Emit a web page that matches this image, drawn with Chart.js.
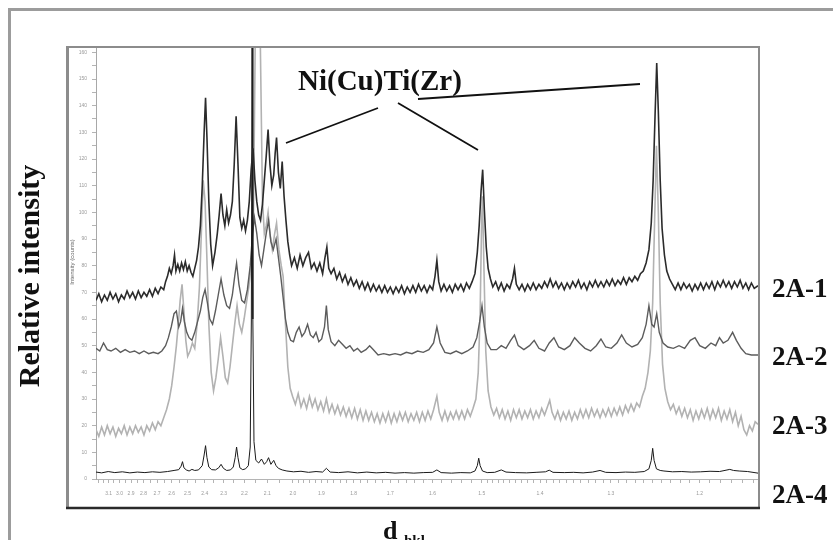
<!DOCTYPE html>
<html>
<head>
<meta charset="utf-8">
<script src="https://cdn.jsdelivr.net/npm/chart.js@4.4.1/dist/chart.umd.min.js"></script>
<style>
  html, body { margin: 0; padding: 0; background: #fff; }
  canvas { display: block; }
</style>
</head>
<body>
<canvas id="xrdChart" width="833" height="540"></canvas>
<script>
// Co K-alpha wavelength (Angstrom): the pattern is recorded in 2-theta, axis is labelled in d
const WAVELENGTH = 1.789;

const seriesNames = ['2A-1', '2A-2', '2A-3', '2A-4'];

// d-spacing labels shown under the axis
const dTickLabels = [3.1, 3.0, 2.9, 2.8, 2.7, 2.6, 2.5, 2.4, 2.3, 2.2, 2.1, 2.0, 1.9, 1.8, 1.7, 1.6, 1.5, 1.4, 1.3, 1.2];
const intensityTicks = [0, 10, 20, 30, 40, 50, 60, 70, 80, 90, 100, 110, 120, 130, 140, 150, 160];

// [2-theta (deg), intensity]
const trace2A1 = [
  [32.2,67],[32.5,69.5],[32.8,66.5],[33.1,69],[33.4,67],[33.7,70],[34.0,67.5],[34.3,69.5],[34.6,66.5],[34.9,69],
  [35.2,67.5],[35.5,70.5],[35.8,68],[36.1,70],[36.4,67.5],[36.7,70.5],[37.0,68],[37.3,70],[37.6,68.5],[37.9,71],
  [38.2,68.5],[38.5,71.5],[38.8,69.5],[39.1,72],[39.4,71],[39.6,74],[39.8,76],[40.0,79],[40.2,77],[40.4,80],
  [40.55,84],[40.7,78],[40.9,80.5],[41.1,78],[41.3,81],[41.5,78.5],[41.7,81.5],[41.9,78],[42.1,80],[42.3,77.5],
  [42.5,76],[42.7,79],[42.9,82],[43.1,87],[43.3,95],[43.5,110],[43.7,130],[43.85,143],[44.0,128],[44.2,104],
  [44.4,88],[44.6,80],[44.85,85],[45.1,92],[45.3,99],[45.5,107],[45.7,99],[45.9,95],[46.1,101],[46.3,96],
  [46.5,99],[46.7,104],[46.9,118],[47.1,136],[47.3,118],[47.5,98],[47.7,94],[47.9,97],[48.1,93],[48.3,97],
  [48.5,104],[48.7,116],[48.9,124],[49.1,112],[49.3,104],[49.5,99],[49.7,97],[49.9,103],[50.1,112],[50.3,121],
  [50.5,131],[50.7,118],[50.9,110],[51.1,114],[51.25,122],[51.4,128],[51.6,115],[51.8,109],[52.0,119],[52.2,106],
  [52.4,97],[52.6,89],[52.8,84],[53.0,80],[53.3,83],[53.6,79],[53.9,84],[54.2,80],[54.5,83],[54.8,85],
  [55.1,79],[55.4,81],[55.7,78],[56.0,81],[56.3,77],[56.55,83],[56.75,87],[56.95,79],[57.2,77],[57.5,79],
  [57.8,75],[58.1,77.5],[58.4,74],[58.7,76.5],[59.0,73],[59.3,75.5],[59.6,72.5],[59.9,74.5],[60.2,71.5],[60.5,74],
  [60.8,71],[61.1,73.5],[61.4,70.5],[61.7,73],[62.0,70.5],[62.3,72.5],[62.6,70],[62.9,72.5],[63.2,70],[63.5,72],
  [63.8,69.5],[64.1,72],[64.4,70],[64.7,72.5],[65.0,69.5],[65.3,72],[65.6,70],[65.9,72.5],[66.2,70],[66.5,73],
  [66.8,70.5],[67.1,72.5],[67.4,70],[67.7,72.5],[68.0,71],[68.25,76],[68.45,82],[68.65,74],[68.9,70.5],[69.2,73],
  [69.5,70.5],[69.8,72.5],[70.1,70],[70.4,73],[70.7,71],[71.0,73],[71.3,70.5],[71.6,73.5],[71.9,71.5],[72.2,74],
  [72.5,77],[72.75,85],[72.95,95],[73.15,108],[73.32,116],[73.5,101],[73.7,87],[73.9,79],[74.15,75],[74.4,72],
  [74.7,74],[75.0,71],[75.3,73.5],[75.6,70.5],[75.9,73],[76.2,71.5],[76.5,75],[76.7,79],[76.9,73],[77.2,71],
  [77.5,73],[77.8,70.5],[78.1,73],[78.4,71],[78.7,73.5],[79.0,71],[79.3,73],[79.6,71.5],[79.9,74],[80.2,72],
  [80.5,75],[80.8,72],[81.1,74],[81.4,71.5],[81.7,73.5],[82.0,71],[82.3,73.5],[82.6,71.5],[82.9,74],[83.2,72],
  [83.5,74.5],[83.8,71.5],[84.1,73.5],[84.4,71],[84.7,74],[85.0,72],[85.3,74.5],[85.6,72],[85.9,74],[86.2,72],
  [86.5,74.5],[86.8,72.5],[87.1,75],[87.4,72.5],[87.7,74.5],[88.0,73],[88.3,75.5],[88.6,73],[88.9,75.5],[89.2,74],
  [89.5,76],[89.8,74.5],[90.1,77],[90.4,78],[90.7,81],[91.0,86],[91.25,96],[91.45,112],[91.65,136],[91.83,156],
  [92.0,138],[92.2,112],[92.4,94],[92.65,84],[92.9,78],[93.2,75],[93.5,73],[93.8,71],[94.1,73.5],[94.4,71],
  [94.7,73.5],[95.0,71.5],[95.3,73],[95.6,70.5],[95.9,73],[96.2,71],[96.5,73.5],[96.8,71],[97.1,73.5],[97.4,71.5],
  [97.7,74],[98.0,71],[98.3,74],[98.6,72],[98.9,74.5],[99.2,72],[99.5,74],[99.8,71.5],[100.1,74],[100.4,72],
  [100.7,74.5],[101.0,71.5],[101.3,73.5],[101.6,71],[101.9,73.5],[102.2,71.5],[102.6,72.5]
];

const trace2A2 = [
  [32.2,49],[32.6,48],[33.0,51],[33.4,48.5],[33.8,48],[34.3,49],[34.8,47.5],[35.3,48.5],[35.8,47.5],[36.3,48],
  [36.8,47],[37.3,48],[37.8,47],[38.3,47.5],[38.8,47],[39.2,48],[39.6,50],[39.9,53],[40.2,57],[40.5,62],
  [40.75,63],[41.0,57],[41.2,59],[41.4,64],[41.6,59],[41.85,55],[42.1,53],[42.4,52],[42.7,55],[43.0,59],
  [43.3,63],[43.55,68],[43.8,71],[44.05,66],[44.3,60],[44.6,58],[44.9,63],[45.2,69],[45.5,75],[45.8,69],
  [46.1,65],[46.4,64],[46.7,69],[46.95,76],[47.15,81],[47.4,73],[47.7,67],[48.0,66],[48.3,71],[48.6,80],
  [48.85,92],[49.05,98],[49.3,92],[49.55,84],[49.8,80],[50.05,86],[50.3,92],[50.55,97],[50.8,89],[51.05,86],
  [51.35,90],[51.6,83],[51.85,76],[52.1,68],[52.35,60],[52.6,55],[52.9,52],[53.2,51.5],[53.5,55],[53.8,57],
  [54.1,53.5],[54.4,55],[54.7,58],[55.0,54],[55.3,53],[55.6,55],[55.9,51.5],[56.2,52.5],[56.5,57],[56.7,65],
  [56.9,56],[57.2,51.5],[57.6,50],[58.0,52],[58.4,50.5],[58.8,49],[59.2,50],[59.6,48],[60.0,49],[60.4,47.5],
  [60.9,48.5],[61.3,50],[61.7,48.5],[62.2,46.5],[62.8,47],[63.4,46.5],[64.0,47],[64.6,46.5],[65.2,47.5],[65.8,47],
  [66.4,48],[67.0,47.5],[67.6,48.5],[68.1,51],[68.45,57],[68.8,51],[69.3,47.5],[69.9,47],[70.5,48],[71.1,47],
  [71.7,48],[72.3,49.5],[72.7,53],[73.0,59],[73.25,65],[73.5,57],[73.8,51],[74.2,48.5],[74.8,48.5],[75.3,50],
  [75.8,49],[76.3,52],[76.7,54],[77.1,50],[77.7,48.5],[78.3,50],[78.8,52],[79.3,49],[79.9,48],[80.4,51],
  [80.9,53],[81.4,49.5],[82.0,48.5],[82.6,50],[83.1,53],[83.6,51],[84.2,49],[84.8,48],[85.4,50],[85.9,52.5],
  [86.4,49.5],[87.0,49],[87.6,51],[88.1,54],[88.6,51],[89.2,49.5],[89.8,50.5],[90.3,53],[90.7,58],[91.0,65],
  [91.3,58],[91.55,57],[91.83,62],[92.1,55],[92.5,51],[93.0,49.5],[93.6,49],[94.2,50],[94.8,49],[95.4,52],
  [95.9,53],[96.4,50],[97.0,49],[97.6,51],[98.1,50],[98.5,53],[98.9,51],[99.4,52],[99.9,55],[100.3,52],
  [100.8,49],[101.3,47],[101.9,46.5],[102.6,46.5]
];

const trace2A3 = [
  [32.2,18.5],[32.5,16],[32.8,19.5],[33.1,16.5],[33.4,20],[33.7,17],[34.0,19.5],[34.3,16],[34.6,19],[34.9,17],
  [35.2,20],[35.5,16.5],[35.8,19.5],[36.1,17],[36.4,20],[36.7,17.5],[37.0,19.5],[37.3,16.5],[37.6,20],[37.9,18],
  [38.2,21],[38.5,18.5],[38.8,21.5],[39.1,20],[39.4,23],[39.7,26],[40.0,30],[40.25,35],[40.5,42],[40.75,50],
  [40.95,58],[41.15,67],[41.35,73],[41.55,63],[41.75,52],[41.95,46],[42.2,48],[42.45,51],[42.7,49],[42.95,58],
  [43.2,72],[43.4,92],[43.6,112],[43.8,104],[44.0,82],[44.2,58],[44.45,40],[44.7,33],[44.95,38],[45.2,45],
  [45.45,53],[45.7,46],[45.95,38],[46.2,36],[46.45,42],[46.7,50],[46.95,58],[47.2,65],[47.45,58],[47.7,55],
  [47.95,60],[48.2,66],[48.45,72],[48.7,80],[48.95,100],[49.15,170],[49.4,260],[49.65,170],[49.9,105],[50.1,92],
  [50.3,95],[50.5,100],[50.7,92],[50.95,86],[51.2,92],[51.4,96],[51.65,86],[51.9,80],[52.1,76],[52.35,58],
  [52.6,42],[52.85,34],[53.1,31],[53.4,28],[53.7,32],[54.0,27],[54.3,30],[54.6,26.5],[54.9,31],[55.2,27],
  [55.5,30],[55.8,26],[56.1,29],[56.4,25.5],[56.7,30],[57.0,25],[57.3,28],[57.6,24.5],[57.9,27.5],[58.2,24],
  [58.5,27],[58.8,23.5],[59.1,26.5],[59.4,23],[59.7,26.5],[60.0,22.5],[60.3,26],[60.6,22],[60.9,25.5],[61.2,22],
  [61.5,25],[61.8,21.5],[62.1,24.5],[62.4,21],[62.7,24.5],[63.0,21.5],[63.3,25],[63.6,21],[63.9,24.5],[64.2,21.5],
  [64.5,25],[64.8,22],[65.1,25],[65.4,21.5],[65.7,24.5],[66.0,22],[66.3,25],[66.6,21.5],[66.9,25],[67.2,22],
  [67.5,25.5],[67.8,22.5],[68.1,26],[68.45,31],[68.7,25],[69.0,22],[69.3,25.5],[69.6,22],[69.9,25],[70.2,22.5],
  [70.5,25.5],[70.8,22.5],[71.1,25.5],[71.4,22.5],[71.7,26],[72.0,23.5],[72.3,26.5],[72.6,30],[72.85,40],[73.05,62],
  [73.2,95],[73.3,106],[73.45,80],[73.65,48],[73.9,33],[74.2,27],[74.5,24],[74.8,26.5],[75.1,23],[75.4,26],
  [75.7,22.5],[76.0,25.5],[76.3,22],[76.6,26],[76.9,23],[77.2,26],[77.5,22.5],[77.8,25.5],[78.1,23],[78.4,26],
  [78.7,22.5],[79.0,25.5],[79.3,23],[79.6,26.5],[79.9,24],[80.2,27],[80.45,29.5],[80.7,25],[81.0,22.5],[81.3,25.5],
  [81.6,22],[81.9,25],[82.2,22.5],[82.5,25.5],[82.8,22],[83.1,25],[83.4,22.5],[83.7,26],[84.0,23],[84.3,26],
  [84.6,23],[84.9,26.5],[85.2,23.5],[85.5,26],[85.8,23],[86.1,26],[86.4,23.5],[86.7,26.5],[87.0,23.5],[87.3,26.5],
  [87.6,24],[87.9,27],[88.2,24],[88.5,27.5],[88.8,25],[89.1,28],[89.4,25.5],[89.7,28.5],[90.0,27],[90.3,31],
  [90.6,34],[90.9,40],[91.15,48],[91.4,66],[91.6,96],[91.8,125],[92.0,100],[92.2,66],[92.45,43],[92.7,34],
  [93.0,29],[93.3,26],[93.6,28],[93.9,24.5],[94.2,27],[94.5,23.5],[94.8,26.5],[95.1,23],[95.4,26],[95.7,22],
  [96.0,25.5],[96.3,22.5],[96.6,26],[96.9,23],[97.2,26.5],[97.5,22.5],[97.8,26],[98.1,23],[98.4,26.5],[98.7,22],
  [99.0,25.5],[99.3,22.5],[99.6,26],[99.9,21.5],[100.2,25],[100.5,20],[100.8,23.5],[101.1,18.5],[101.4,16.5],[101.7,20],
  [102.0,18],[102.3,21.5],[102.6,20.5]
];

const trace2A4 = [
  [32.2,2.6],[32.8,2.3],[33.5,2.8],[34.2,2.4],[35.0,2.7],[35.8,2.3],[36.6,2.6],[37.4,2.4],[38.2,2.7],[39.0,2.5],
  [39.8,2.8],[40.5,3.2],[41.0,3.5],[41.25,4.8],[41.4,6.5],[41.55,4.2],[41.8,3.4],[42.1,3],[42.4,3.6],[42.7,3.2],
  [43.1,3.4],[43.5,5],[43.7,9],[43.85,12.5],[44.0,8],[44.2,4.5],[44.5,3.5],[44.9,3.4],[45.25,4.2],[45.5,5.5],
  [45.75,4],[46.1,3.2],[46.5,3.4],[46.8,4.5],[47.0,8],[47.15,12],[47.3,8],[47.5,4.2],[47.8,3.5],[48.1,3.8],
  [48.4,5],[48.6,12],[48.72,60],[48.8,175],[48.88,60],[49.0,14],[49.2,7],[49.5,6],[49.8,7.5],[50.1,5.5],
  [50.35,6.5],[50.55,8],[50.8,5.5],[51.1,7],[51.35,5],[51.6,4],[52.0,3.4],[52.5,3],[53.2,2.7],[54.0,2.9],
  [54.8,2.5],[55.6,2.8],[56.3,2.6],[56.7,4],[57.1,2.6],[58.0,2.4],[59.0,2.7],[60.0,2.3],[61.0,2.6],[62.0,2.3],
  [63.0,2.5],[64.0,2.2],[65.0,2.4],[66.0,2.2],[67.0,2.4],[68.0,2.5],[68.45,3.4],[68.9,2.4],[70.0,2.2],[71.0,2.4],
  [72.0,2.3],[72.5,3],[72.75,5],[72.9,7.8],[73.05,5],[73.3,3],[73.8,2.4],[74.6,2.5],[75.3,3.4],[75.8,2.6],
  [76.8,2.4],[78.0,2.3],[79.0,2.5],[80.0,2.7],[80.4,3.3],[80.8,2.5],[82.0,2.4],[83.0,2.5],[84.0,2.3],[85.0,2.6],
  [85.8,3.2],[86.4,2.5],[87.5,2.4],[88.5,2.6],[89.5,2.5],[90.5,2.8],[91.0,3.8],[91.25,7],[91.4,11.5],[91.55,7],
  [91.8,3.8],[92.2,3.2],[92.6,3],[93.5,2.7],[94.5,2.8],[95.5,2.6],[96.5,2.7],[97.5,2.9],[98.5,2.8],[99.2,3.3],
  [99.6,3.6],[100.0,3.2],[100.6,3.0],[101.5,2.8],[102.6,2.2]
];

function dToTwoTheta(d) {
    return 2 * Math.asin(WAVELENGTH / (2 * d)) * 180 / Math.PI;
}

// tick marks every 0.05 / 0.02 / 0.01 in d, labels only on the listed values
function buatTickD() {
    const ticks = [];
    const tambah = (k) => {
        const d = k / 100;
        const lbl = dTickLabels.find(v => Math.abs(v - d) < 1e-6);
        ticks.push({ value: dToTwoTheta(d), txt: lbl !== undefined ? lbl.toFixed(1) : '' });
    };
    for (let k = 320; k > 200; k -= 5) tambah(k);
    for (let k = 200; k > 150; k -= 2) tambah(k);
    for (let k = 150; k >= 115; k -= 1) tambah(k);
    return ticks;
}

const frameAndText = {
    id: 'frameAndText',
    beforeDraw(chart) {
        const ctx = chart.ctx;
        ctx.save();
        ctx.fillStyle = '#fff';
        ctx.fillRect(0, 0, chart.width, chart.height);
        ctx.restore();
    },
    afterDraw(chart) {
        const ctx = chart.ctx;
        ctx.save();

        // outer frame
        ctx.strokeStyle = '#9c9c9c';
        ctx.lineWidth = 3;
        ctx.beginPath();
        ctx.moveTo(9.5, 540);
        ctx.lineTo(9.5, 9.5);
        ctx.lineTo(833, 9.5);
        ctx.stroke();

        // box round the plot
        ctx.strokeStyle = '#8c8c8c';
        ctx.lineWidth = 3;
        ctx.beginPath();
        ctx.moveTo(67.5, 509);
        ctx.lineTo(67.5, 46);
        ctx.stroke();
        ctx.lineWidth = 2;
        ctx.beginPath();
        ctx.moveTo(66, 47);
        ctx.lineTo(759, 47);
        ctx.lineTo(759, 509);
        ctx.stroke();
        ctx.strokeStyle = '#2a2a2a';
        ctx.lineWidth = 2.5;
        ctx.beginPath();
        ctx.moveTo(66, 508);
        ctx.lineTo(760, 508);
        ctx.stroke();

        // small inner axis title
        ctx.fillStyle = '#666';
        ctx.font = '6px "Liberation Sans"';
        ctx.save();
        ctx.translate(72, 262);
        ctx.rotate(-Math.PI / 2);
        ctx.textAlign = 'center';
        ctx.textBaseline = 'middle';
        ctx.fillText('Intensity (counts)', 0, 0);
        ctx.restore();

        ctx.fillStyle = '#111';
        ctx.strokeStyle = '#111';

        // y title
        ctx.save();
        ctx.font = 'bold 30px "Liberation Serif"';
        ctx.translate(31, 276);
        ctx.rotate(-Math.PI / 2);
        ctx.textAlign = 'center';
        ctx.textBaseline = 'middle';
        ctx.fillText('Relative intensity', 0, 0);
        ctx.restore();

        // x title: d with subscript hkl
        ctx.textAlign = 'left';
        ctx.textBaseline = 'alphabetic';
        ctx.font = 'bold 26px "Liberation Serif"';
        ctx.fillText('d', 383, 539);
        ctx.font = 'bold 15px "Liberation Serif"';
        ctx.fillText('hkl', 404, 545);

        // series labels
        ctx.font = 'bold 27px "Liberation Serif"';
        const labelY = [297, 365, 434, 503];
        seriesNames.forEach((nama, i) => ctx.fillText(nama, 772, labelY[i]));

        // phase annotation
        ctx.font = 'bold 29px "Liberation Serif"';
        ctx.fillText('Ni(Cu)Ti(Zr)', 298, 90);
        ctx.lineWidth = 1.8;
        ctx.beginPath();
        ctx.moveTo(378, 108); ctx.lineTo(286, 143);
        ctx.moveTo(398, 103); ctx.lineTo(478, 150);
        ctx.moveTo(418, 99); ctx.lineTo(640, 84);
        ctx.stroke();

        ctx.restore();
    }
};

const ctx = document.getElementById('xrdChart').getContext('2d');

new Chart(ctx, {
    type: 'line',
    data: {
        datasets: [
            { label: seriesNames[0], data: trace2A1, borderColor: '#2b2b2b', borderWidth: 1.6 },
            { label: seriesNames[3], data: trace2A4, borderColor: '#1a1a1a', borderWidth: 1 },
            { label: seriesNames[1], data: trace2A2, borderColor: '#5c5c5c', borderWidth: 1.4 },
            { label: seriesNames[2], data: trace2A3, borderColor: '#b2b2b2', borderWidth: 1.6 }
        ]
    },
    options: {
        responsive: false,
        devicePixelRatio: 1,
        animation: false,
        events: [],
        elements: {
            point: { radius: 0 },
            line: { tension: 0, fill: false }
        },
        layout: { padding: { left: 66, top: 47, right: 75, bottom: 41 } },
        plugins: {
            legend: { display: false },
            tooltip: { enabled: false },
            title: { display: false }
        },
        scales: {
            x: {
                type: 'linear',
                min: 32.2,
                max: 102.6,
                afterFit: (scale) => { scale.height = 20; },
                afterBuildTicks: (scale) => { scale.ticks = buatTickD(); },
                ticks: {
                    autoSkip: false,
                    maxRotation: 0,
                    minRotation: 0,
                    padding: 8,
                    color: '#9a9a9a',
                    font: { size: 5, family: 'Liberation Sans' },
                    callback: (value, index, ticks) => ticks[index].txt
                },
                grid: { drawOnChartArea: false, tickLength: 4, color: '#b4b4b4' },
                border: { display: true, color: '#b4b4b4' }
            },
            y: {
                min: 0,
                max: 162,
                afterFit: (scale) => { scale.width = 30; },
                afterBuildTicks: (scale) => {
                    const t = [];
                    for (let v = 0; v <= 160; v += 5) t.push({ value: v });
                    scale.ticks = t;
                },
                ticks: {
                    padding: 5,
                    color: '#9a9a9a',
                    font: { size: 5, family: 'Liberation Sans' },
                    callback: (value) => intensityTicks.includes(value) ? String(value) : ''
                },
                grid: { drawOnChartArea: false, tickLength: 4, color: '#b4b4b4' },
                border: { display: true, color: '#a8a8a8' }
            }
        }
    },
    plugins: [frameAndText]
});
</script>
</body>
</html>
